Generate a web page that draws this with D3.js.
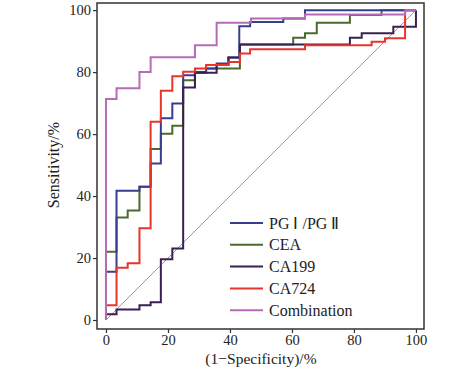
<!DOCTYPE html>
<html><head><meta charset="utf-8">
<script src="https://cdn.jsdelivr.net/npm/d3@7"></script>
<style>html,body{margin:0;padding:0;background:#fff;}</style>
</head><body>
<svg id="c" width="474" height="370"></svg>
<script>
// ---- data ----
const seriesNames = ["PG \u2160 /PG \u2161", "CEA", "CA199", "CA724", "Combination"];
const seriesColors = ["#383d8e", "#4b6a2e", "#3b1f52", "#e8352b", "#b56cb6"];

const pgFpr = [0, 0, 3.4, 10.8, 14.4, 17.7, 21.4, 24.9, 28.7, 32.3, 35.7, 39.5, 43.0, 46.5, 57.2, 64.2, 100];
const pgTpr = [0, 15.6, 41.7, 43.0, 50.5, 65.1, 69.9, 79.0, 80.0, 81.2, 82.8, 84.7, 94.8, 96.2, 97.3, 100, 100];

const ceaFpr = [0, 0, 3.4, 7.0, 10.8, 14.4, 17.7, 21.4, 24.9, 28.7, 32.3, 43.2, 60.4, 64.2, 68.0, 78.7, 88.9, 100];
const ceaTpr = [0, 22.0, 33.1, 35.3, 43.0, 55.2, 60.1, 62.7, 77.4, 79.8, 81.2, 88.9, 91.1, 92.5, 95.9, 98.4, 100, 100];

const ca199Fpr = [0, 0, 3.4, 10.8, 14.4, 17.7, 21.4, 24.9, 28.7, 35.7, 39.5, 43.2, 78.7, 82.5, 92.7, 100];
const ca199Tpr = [0, 1.9, 3.4, 4.8, 5.7, 19.6, 23.1, 75.0, 79.8, 82.3, 84.7, 88.9, 91.1, 92.5, 94.6, 100];

const ca724Fpr = [0, 0, 3.4, 7.0, 10.8, 14.4, 17.7, 21.4, 24.9, 28.7, 32.3, 39.5, 43.2, 46.5, 64.2, 85.7, 90.0, 96.5, 100];
const ca724Tpr = [0, 4.8, 16.9, 18.3, 29.6, 64.0, 74.0, 78.7, 80.1, 81.2, 82.3, 83.3, 86.0, 87.4, 88.7, 89.8, 90.9, 100, 100];

const combFpr = [0, 0, 3.4, 10.8, 14.4, 28.7, 35.7, 46.8, 64.2, 96.5, 100];
const combTpr = [0, 71.3, 74.8, 80.0, 84.8, 88.7, 95.9, 97.3, 98.6, 100, 100];

const xTicks = [0, 20, 40, 60, 80, 100];
const yTicks = [0, 20, 40, 60, 80, 100];
const xTitle = "(1\u2212Specificity)/%";
const yTitle = "Sensitivity/%";

// ---- layout ----
const m = {left: 97, top: 3, width: 327, height: 326};
const font = "'Liberation Serif', 'Times New Roman', serif";
const svg = d3.select("#c");
const g = svg.append("g").attr("transform", `translate(${m.left},${m.top})`);
const x = d3.scaleLinear().domain([-2.9, 102.6]).range([0, m.width]);
const y = d3.scaleLinear().domain([-2.9, 102.3]).range([m.height, 0]);

// diagonal reference
g.append("line")
  .attr("x1", x(0)).attr("y1", y(0)).attr("x2", x(100)).attr("y2", y(100))
  .attr("stroke", "#e07c84").attr("stroke-width", 1);

const series = [
  {fpr: pgFpr, tpr: pgTpr},
  {fpr: ceaFpr, tpr: ceaTpr},
  {fpr: ca199Fpr, tpr: ca199Tpr},
  {fpr: ca724Fpr, tpr: ca724Tpr},
  {fpr: combFpr, tpr: combTpr}
];
const line = d3.line().curve(d3.curveStepAfter).x(d => x(d[0])).y(d => y(d[1]));
const order = [1, 0, 2, 3, 4];
order.forEach(i => {
  const s = series[i];
  const pts = s.fpr.map((f, j) => [f, s.tpr[j]]);
  g.append("path").attr("d", line(pts)).attr("fill", "none")
    .attr("stroke", seriesColors[i]).attr("stroke-width", 2)
    .attr("stroke-linejoin", "miter");
});

// axes
const xAxis = g.append("g").attr("transform", `translate(0,${m.height})`)
  .call(d3.axisBottom(x).tickValues(xTicks).tickSize(4).tickSizeOuter(0).tickPadding(2));
const yAxis = g.append("g")
  .call(d3.axisLeft(y).tickValues(yTicks).tickSize(4).tickSizeOuter(0).tickPadding(2));
[xAxis, yAxis].forEach(a => {
  a.select(".domain").remove();
  a.selectAll("line").attr("stroke", "#333").attr("stroke-width", 1.2);
  a.selectAll("text").attr("font-family", font).attr("font-size", 14.5).attr("fill", "#222");
});

// frame
g.append("rect").attr("x", 0).attr("y", 0).attr("width", m.width).attr("height", m.height)
  .attr("fill", "none").attr("stroke", "#333").attr("stroke-width", 1.5);

// titles
svg.append("text").attr("x", m.left + x(50)).attr("y", 364)
  .attr("text-anchor", "middle").attr("font-family", font).attr("font-size", 15.5).attr("fill", "#222")
  .text(xTitle);
svg.append("text").attr("transform", `translate(59,${m.top + y(50)}) rotate(-90)`)
  .attr("text-anchor", "middle").attr("font-family", font).attr("font-size", 16).attr("fill", "#222")
  .text(yTitle);

// legend
const lg = svg.append("g").attr("transform", "translate(230,223)");
seriesNames.forEach((nm, i) => {
  const row = lg.append("g").attr("transform", `translate(0,${i * 21.8})`);
  row.append("line").attr("x1", 0).attr("x2", 33).attr("y1", 0).attr("y2", 0)
    .attr("stroke", seriesColors[i]).attr("stroke-width", 2);
  row.append("text").attr("x", 39).attr("y", 5.5)
    .attr("font-family", font).attr("font-size", 16).attr("fill", "#222").text(nm);
});
</script>
</body></html>
